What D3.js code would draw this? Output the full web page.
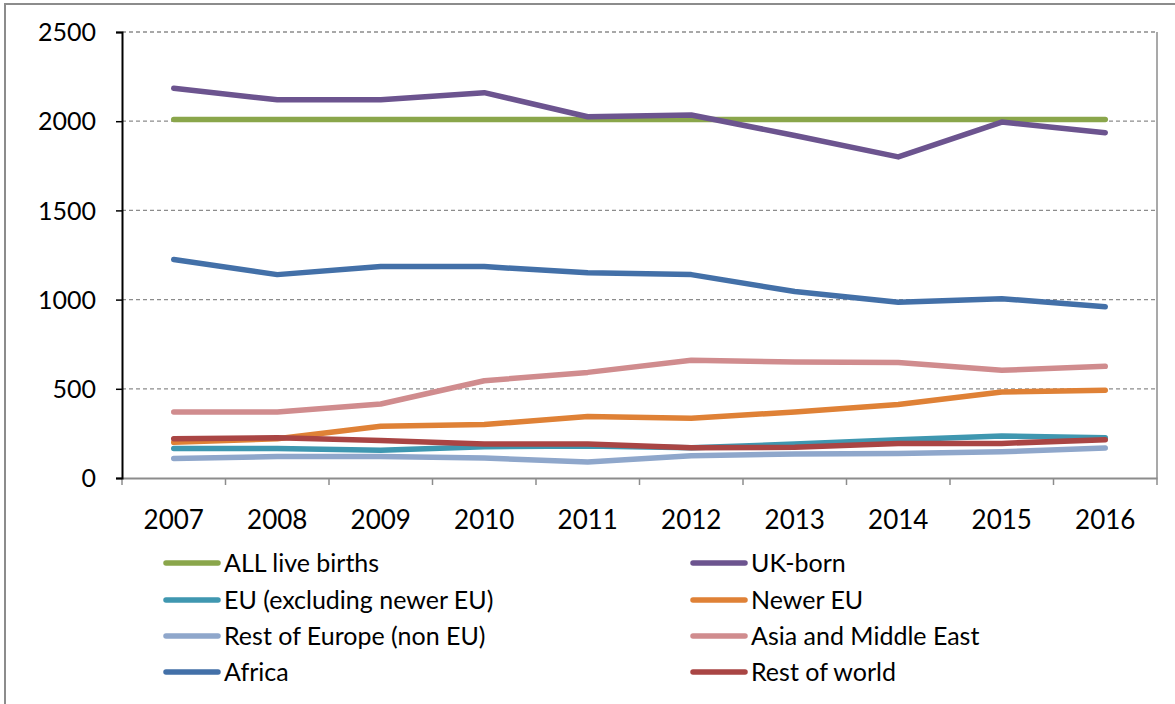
<!DOCTYPE html>
<html><head><meta charset="utf-8">
<script src="https://cdn.jsdelivr.net/npm/d3@7"></script>
<style>
html,body{margin:0;padding:0;background:#fff;}
svg text{font-family:Lato, "Open Sans", sans-serif;fill:#000;}
</style></head>
<body><svg id="chart" width="1175" height="704"></svg>
<script>
const years = ["2007","2008","2009","2010","2011","2012","2013","2014","2015","2016"];
const yTicks = [0,500,1000,1500,2000,2500];
const seriesNames = ["ALL live births","UK-born","EU (excluding newer EU)","Newer EU","Rest of Europe (non EU)","Asia and Middle East","Africa","Rest of world"];
const seriesColors = ["#8aa64b","#6c548f","#3f97b0","#df8136","#8fa7cb","#d08c8e","#4370a8","#a94544"];
const allBirths   = [2010,2010,2010,2010,2010,2010,2010,2010,2010,2010];
const ukBorn      = [2185,2120,2120,2160,2025,2035,1920,1800,1995,1935];
const euOld       = [165,165,155,175,180,170,190,215,235,225];
const newerEU     = [200,220,290,300,345,335,370,412,482,492];
const restEurope  = [110,120,120,112,90,125,135,138,147,168];
const asiaME      = [370,370,415,545,592,660,650,648,604,626];
const africa      = [1225,1140,1185,1185,1150,1140,1045,985,1005,960];
const restWorld   = [220,225,210,190,190,170,172,194,194,215];
const seriesValues = [allBirths,ukBorn,euOld,newerEU,restEurope,asiaME,africa,restWorld];

const svg = d3.select("#chart");
const L = 122, R = 1157, T = 32, B = 478;

svg.append("rect").attr("x",5).attr("y",4).attr("width",1180).attr("height",720)
  .attr("fill","#fff").attr("stroke","#8c8c8c").attr("stroke-width",2);

const x = d3.scaleBand().domain(years).range([L,R]).padding(0);
const y = d3.scaleLinear().domain([0,2500]).range([B,T]);

svg.append("g").selectAll("line").data(yTicks.filter(d=>d>0)).join("line")
  .attr("x1",L).attr("x2",R).attr("y1",d=>y(d)).attr("y2",d=>y(d))
  .attr("stroke","#8c8c8c").attr("stroke-width",1.3).attr("stroke-dasharray","4,3");
svg.append("line").attr("x1",R).attr("x2",R).attr("y1",T).attr("y2",B)
  .attr("stroke","#8c8c8c").attr("stroke-width",1.5);

const xAxis = svg.append("g").attr("transform",`translate(0,${B})`)
  .call(d3.axisBottom(x).tickSize(0).tickFormat(""));
xAxis.select(".domain").attr("stroke","#8c8c8c").attr("stroke-width",2);
const bounds = years.map(d=>x(d)).concat([R]);
svg.append("g").selectAll("line").data(bounds).join("line")
  .attr("x1",d=>d).attr("x2",d=>d).attr("y1",B).attr("y2",B+7)
  .attr("stroke","#8c8c8c").attr("stroke-width",1.5);
svg.append("g").selectAll("text").data(years).join("text")
  .attr("x",d=>x(d)+x.bandwidth()/2).attr("y",B+51)
  .attr("text-anchor","middle").attr("font-size",26).text(d=>d);

const yAxis = svg.append("g").attr("transform",`translate(${L},0)`)
  .call(d3.axisLeft(y).tickValues(yTicks).tickSize(6).tickPadding(20).tickFormat(d3.format("d")));
yAxis.select(".domain").attr("stroke","#000").attr("stroke-width",2);
yAxis.selectAll(".tick line").attr("stroke","#000").attr("stroke-width",1.5);
yAxis.selectAll(".tick text").attr("font-size",25).attr("font-family","Lato, 'Open Sans', sans-serif").attr("fill","#000").attr("dy","0.35em");

const line = d3.line().x((d,i)=>x(years[i])+x.bandwidth()/2).y(d=>y(d));
svg.append("g").selectAll("path").data(seriesValues).join("path")
  .attr("d",d=>line(d)).attr("fill","none")
  .attr("stroke",(d,i)=>seriesColors[i]).attr("stroke-width",5.5)
  .attr("stroke-linecap","round").attr("stroke-linejoin","round");

const legRows = [563,600,636,672];
const leg = svg.append("g");
seriesNames.forEach((n,i)=>{
  const col = i%2, row = Math.floor(i/2);
  const lx = col===0 ? 166 : 693;
  const ly = legRows[row];
  leg.append("line").attr("x1",lx).attr("x2",lx+52).attr("y1",ly).attr("y2",ly)
    .attr("stroke",seriesColors[i]).attr("stroke-width",5.5).attr("stroke-linecap","round");
  leg.append("text").attr("x",lx+58).attr("y",ly).attr("dy","0.35em")
    .attr("font-size",25).text(n);
});
</script></body></html>
